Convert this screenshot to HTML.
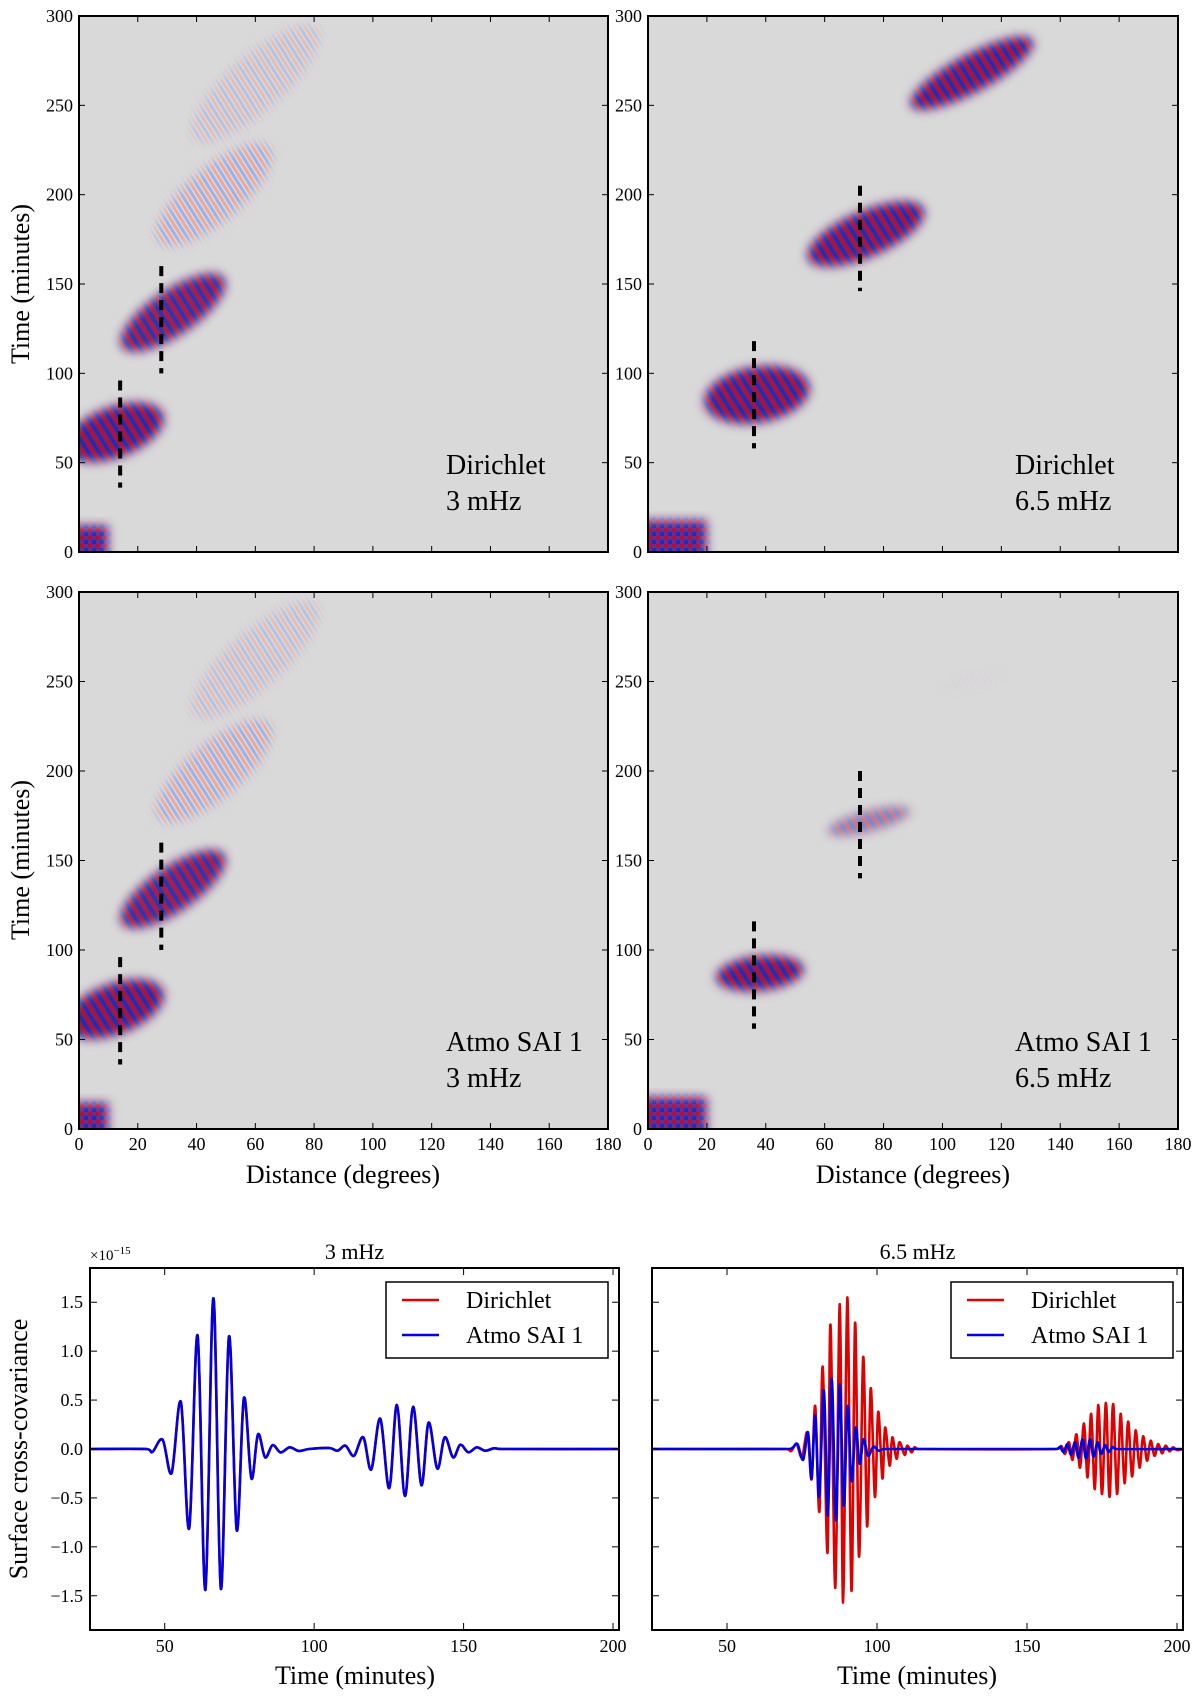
<!DOCTYPE html>
<html><head><meta charset="utf-8"><style>
html,body{margin:0;padding:0;background:#fff;}
svg text{font-family:"Liberation Serif",serif;fill:#000;}
</style></head><body>
<svg id="fig" width="1200" height="1696" viewBox="0 0 1200 1696" xmlns="http://www.w3.org/2000/svg">
<defs>
<pattern id="stripes" width="9" height="9" patternUnits="userSpaceOnUse" patternTransform="rotate(-32)">
<rect width="9" height="9" fill="#5a2a8a"/><rect width="3.5" height="9" fill="#b0103a"/><rect x="4.5" width="3.5" height="9" fill="#2a2aa8"/>
</pattern>
<pattern id="stripesFaint" width="9" height="9" patternUnits="userSpaceOnUse" patternTransform="rotate(-32)">
<rect width="9" height="9" fill="#d9d9d9"/><rect width="3" height="9" fill="#f29a8a"/><rect x="4.5" width="3" height="9" fill="#8aa6f2"/>
</pattern>
<pattern id="checker" width="8" height="8" patternUnits="userSpaceOnUse">
<rect width="8" height="8" fill="#6a2a90"/><rect width="4" height="4" fill="#b0103a"/><rect x="4" y="4" width="4" height="4" fill="#2a2aa8"/>
</pattern>
<filter id="soft" x="-50%" y="-50%" width="200%" height="200%"><feGaussianBlur stdDeviation="5"/></filter>
</defs>
</svg>
<script>
// ---------- heatmap data ----------
const hmXTicks=[0,20,40,60,80,100,120,140,160,180];
const hmYTicks=[0,50,100,150,200,250,300];
// blob data per panel: center distance, center time, half-extent in distance, half-extent in time, slope (min/deg), strength
const tlDist=[12,32,46,60], tlTime=[67,134,200,262], tlHd=[17,18,20,22], tlHt=[15,15,19,20], tlSlope=[0.45,0.9,1.1,1.2], tlAlpha=[1,0.95,0.35,0.2];
const trDist=[37,74,110], trTime=[88,178,268], trHd=[18,20,21], trHt=[16,14,12], trSlope=[0.2,0.6,0.8], trAlpha=[1,1,1];
const blDist=[12,32,46,60], blTime=[67,134,200,262], blHd=[17,18,20,22], blHt=[15,15,19,20], blSlope=[0.45,0.9,1.1,1.2], blAlpha=[1,0.95,0.35,0.2];
const brDist=[38,75,110], brTime=[87,172,250], brHd=[15,14,12], brHt=[10,6,4], brSlope=[0.15,0.4,0.3], brAlpha=[1,0.5,0.03];
// corner source region: max distance, max time
const cornerDist=[10,20,10,20], cornerTime=[15,18,15,18];
// dashed markers: distance, time start, time end
const tlDash=[[14,36,96],[28,100,160]], trDash=[[36,58,118],[72,146,205]];
const blDash=[[14,36,96],[28,100,160]], brDash=[[36,56,116],[72,140,200]];

// ---------- waveform data ----------
const wfXTicks=[50,100,150,200];
const wfYTicks=[-1.5,-1.0,-0.5,0.0,0.5,1.0,1.5];
const wfYLabels=["\u22121.5","\u22121.0","\u22120.5","0.0","0.5","1.0","1.5"];
const w3Time=[25,43.9,45.9,49.3,52.3,55.4,58.2,61,63.6,66.3,68.8,71.5,74.1,76.5,79,81.2,83.6,86.1,88.8,91.8,94.9,98.3,105.1,107.8,110.5,113.3,116.4,119.1,122.1,125.1,127.7,130.4,133.1,135.9,138.3,141.2,143.7,146.5,148.9,151.6,154.4,157.2,160.2,162.9,202];
const w3Val=[0,0,-0.03,0.095,-0.245,0.48,-0.81,1.16,-1.44,1.54,-1.43,1.15,-0.83,0.52,-0.30,0.15,-0.085,0.04,-0.035,0.017,-0.02,0,0.01,-0.017,0.034,-0.07,0.12,-0.21,0.31,-0.40,0.45,-0.48,0.43,-0.37,0.27,-0.2,0.12,-0.085,0.044,-0.034,0.017,-0.017,0.007,0,0];
const w65RedTime=[25,69.6,71.4,73.2,75,76.8,78.2,79.4,80.8,81.9,83.5,84.5,86.1,87.6,88.7,90.1,91.5,92.7,94,95.4,96.7,97.9,99.3,100.4,101.8,102.7,104.2,105.1,106.5,107.5,109.2,110.1,111.5,112.5,114,160,161.5,162.7,164,165.2,166.5,167.7,169,170.2,171.4,172.6,173.8,175,176.3,177.5,178.7,180,181.2,182.5,183.7,185,186.2,187.5,188.7,190,191.2,192.5,193.7,195,196.2,197.5,198.7,200,202];
const w65RedVal=[0,0,-0.02,0.05,-0.085,0.17,-0.31,0.44,-0.64,0.84,-1.06,1.27,-1.42,1.48,-1.57,1.55,-1.45,1.29,-1.10,0.94,-0.79,0.62,-0.49,0.38,-0.30,0.22,-0.17,0.12,-0.10,0.07,-0.06,0.034,-0.034,0.017,0,0,0.03,-0.05,0.07,-0.11,0.15,-0.19,0.26,-0.29,0.36,-0.41,0.45,-0.46,0.47,-0.49,0.46,-0.46,0.36,-0.35,0.28,-0.28,0.19,-0.19,0.13,-0.12,0.085,-0.07,0.05,-0.044,0.034,-0.024,0.017,-0.01,0];
const w65BlueTime=[25,70.5,72,73.5,75.4,77,78.2,79.4,80.7,82.3,83.6,84.9,86.3,87.6,88.9,90.2,91.5,92.9,94.2,95.5,97,98.8,100.6,103,159.5,161,162.2,163.5,164.7,166,167.2,168.5,169.7,171,172.2,173.5,174.7,176,177.2,178.5,180,202];
const w65BlueVal=[0,0,0.017,0.05,-0.11,0.17,-0.3,0.34,-0.49,0.6,-0.68,0.72,-0.73,0.66,-0.58,0.44,-0.33,0.22,-0.15,0.1,-0.07,0.024,-0.017,0,0,0.02,-0.03,0.05,-0.06,0.07,-0.09,0.1,-0.1,0.1,-0.08,0.07,-0.05,0.04,-0.03,0.02,0,0];

const NS="http://www.w3.org/2000/svg";
const svg=document.getElementById('fig');
function mk(tag,attrs,parent){const e=document.createElementNS(NS,tag);for(const k in attrs)e.setAttribute(k,attrs[k]);(parent||svg).appendChild(e);return e;}
function txt(s,attrs,parent){const e=mk('text',attrs,parent);e.textContent=s;return e;}

let clipId=0;
function heatPanel(name,x0,y0,w,h,dist,time,hd,ht,slope,alpha,cd,ct,dashes,line1,line2,showX){
  const g=mk('g',{});
  
  
  const px=d=>x0+d/180*w, py=t=>y0+h-t/300*h;
  const cid='clip'+(clipId++);
  const cp=mk('clipPath',{id:cid},g);mk('rect',{x:x0,y:y0,width:w,height:h},cp);
  const bg=mk('rect',{x:x0,y:y0,width:w,height:h,fill:'#d9d9d9'},g);
  
  
  const inner=mk('g',{'clip-path':'url(#'+cid+')'},g);
  const mid='m'+(clipId++);
  const m=mk('mask',{id:mid,maskUnits:'userSpaceOnUse',x:0,y:0,width:1200,height:1696},g);
  mk('rect',{x:px(-5),y:py(ct),width:px(cd)-px(-5),height:py(-5)-py(ct),fill:'#fff',filter:'url(#soft)'},m);
  const corner=mk('rect',{x:x0,y:py(ct+5),width:px(cd+5)-x0,height:py(0)-py(ct+5),fill:'url(#checker)',mask:'url(#'+mid+')'},inner);
  
  
  for(let i=0;i<dist.length;i++){
    const pts=[];
    for(let k=0;k<48;k++){const a=k/48*2*Math.PI;const u=Math.cos(a),v=Math.sin(a);
      const d=dist[i]+u*hd[i], t=time[i]+u*hd[i]*slope[i]+v*ht[i];pts.push(px(d).toFixed(1)+','+py(t).toFixed(1));}
    const id='b'+(clipId++);
    const mm=mk('mask',{id:id,maskUnits:'userSpaceOnUse',x:0,y:0,width:1200,height:1696},g);
    mk('polygon',{points:pts.join(' '),fill:'#fff',filter:'url(#soft)'},mm);
    const faint=alpha[i]<0.5;
    const b=mk('rect',{x:x0,y:y0,width:w,height:h,fill:faint?'url(#stripesFaint)':'url(#stripes)',opacity:faint?Math.min(1,alpha[i]*2.2):alpha[i],mask:'url(#'+id+')'},inner);
    
    
  }
  for(const dsh of dashes){
    const l=mk('line',{x1:px(dsh[0]),x2:px(dsh[0]),y1:py(dsh[2]),y2:py(dsh[1]),stroke:'#000','stroke-width':4,'stroke-dasharray':'10,7'},g);
    
    
  }
  for(const t of hmXTicks){const x=px(t);
    mk('line',{x1:x,x2:x,y1:y0+h,y2:y0+h-6,stroke:'#000','stroke-width':1},g);
    mk('line',{x1:x,x2:x,y1:y0,y2:y0+6,stroke:'#000','stroke-width':1},g);
    if(showX){const tl=txt(String(t),{x:x,y:y0+h+21,'font-size':18,'text-anchor':'middle'},g);
      
      }
  }
  for(const t of hmYTicks){const y=py(t);
    mk('line',{x1:x0,x2:x0+6,y1:y,y2:y,stroke:'#000','stroke-width':1},g);
    mk('line',{x1:x0+w,x2:x0+w-6,y1:y,y2:y,stroke:'#000','stroke-width':1},g);
    const tl=txt(String(t),{x:x0-6,y:y+6,'font-size':18,'text-anchor':'end'},g);
    
    
  }
  const fr=mk('rect',{x:x0,y:y0,width:w,height:h,fill:'none',stroke:'#000','stroke-width':2},g);
  
  
  const a1=txt(line1,{x:x0+367,y:y0+h-78,'font-size':28},g);
  
  
  const a2=txt(line2,{x:x0+367,y:y0+h-42,'font-size':28},g);
  
  
}
heatPanel('heatmap-dirichlet-3mhz',79,16,529,536,tlDist,tlTime,tlHd,tlHt,tlSlope,tlAlpha,cornerDist[0],cornerTime[0],tlDash,'Dirichlet','3 mHz',false);
heatPanel('heatmap-dirichlet-6p5mhz',648,16,530,536,trDist,trTime,trHd,trHt,trSlope,trAlpha,cornerDist[1],cornerTime[1],trDash,'Dirichlet','6.5 mHz',false);
heatPanel('heatmap-atmo-3mhz',79,592,529,537,blDist,blTime,blHd,blHt,blSlope,blAlpha,cornerDist[2],cornerTime[2],blDash,'Atmo SAI 1','3 mHz',true);
heatPanel('heatmap-atmo-6p5mhz',648,592,530,537,brDist,brTime,brHd,brHt,brSlope,brAlpha,cornerDist[3],cornerTime[3],brDash,'Atmo SAI 1','6.5 mHz',true);

function label(s,attrs,name){const e=txt(s,attrs);return e;}
label('Time (minutes)',{x:0,y:0,'font-size':26,'text-anchor':'middle',transform:'translate(29,284) rotate(-90)'},'y-axis-title-top');
label('Time (minutes)',{x:0,y:0,'font-size':26,'text-anchor':'middle',transform:'translate(29,860) rotate(-90)'},'y-axis-title-middle');
label('Distance (degrees)',{x:343,y:1183,'font-size':26,'text-anchor':'middle'},'x-axis-title-left');
label('Distance (degrees)',{x:913,y:1183,'font-size':26,'text-anchor':'middle'},'x-axis-title-right');

function pathFrom(xs,ys){let d='M'+xs[0].toFixed(1)+','+ys[0].toFixed(1);
  for(let i=0;i<xs.length-1;i++){const i0=Math.max(0,i-1),i3=Math.min(xs.length-1,i+2);
    let c1x=xs[i]+(xs[i+1]-xs[i0])/6,c1y=ys[i]+(ys[i+1]-ys[i0])/6,c2x=xs[i+1]-(xs[i3]-xs[i])/6,c2y=ys[i+1]-(ys[i3]-ys[i])/6;
    c1x=Math.max(xs[i],Math.min(xs[i+1],c1x));c2x=Math.max(xs[i],Math.min(xs[i+1],c2x));
    d+=' C'+c1x.toFixed(1)+','+c1y.toFixed(1)+' '+c2x.toFixed(1)+','+c2y.toFixed(1)+' '+xs[i+1].toFixed(1)+','+ys[i+1].toFixed(1);}
  return d;}
function wavePanel(name,x0,y0,w,h,title,series,showY,legX){
  const g=mk('g',{});
  
  
  const xmin=25,xmax=202,ymin=-1.85,ymax=1.85;
  const px=t=>x0+(t-xmin)/(xmax-xmin)*w, py=v=>y0+(ymax-v)/(ymax-ymin)*h;
  const cid='wc'+(clipId++);const cp=mk('clipPath',{id:cid},g);mk('rect',{x:x0,y:y0,width:w,height:h},cp);
  for(const s of series){
    const p=mk('path',{d:pathFrom(s.t.map(px),s.v.map(py)),fill:'none',stroke:s.color,'stroke-width':2.6,'stroke-linejoin':'round','clip-path':'url(#'+cid+')'},g);
    
    
  }
  for(const t of wfXTicks){const x=px(t);
    mk('line',{x1:x,x2:x,y1:y0+h,y2:y0+h-7,stroke:'#000'},g);mk('line',{x1:x,x2:x,y1:y0,y2:y0+7,stroke:'#000'},g);
    const tl=txt(String(t),{x:x,y:y0+h+22,'font-size':18,'text-anchor':'middle'},g);
    
    }
  wfYTicks.forEach((v,i)=>{const y=py(v);
    mk('line',{x1:x0,x2:x0+7,y1:y,y2:y,stroke:'#000'},g);mk('line',{x1:x0+w,x2:x0+w-7,y1:y,y2:y,stroke:'#000'},g);
    if(showY){const tl=txt(wfYLabels[i],{x:x0-7,y:y+6,'font-size':18,'text-anchor':'end'},g);
      
      }});
  const fr=mk('rect',{x:x0,y:y0,width:w,height:h,fill:'none',stroke:'#000','stroke-width':2},g);
  
  
  const tt=txt(title,{x:x0+w/2,y:y0-9,'font-size':22,'text-anchor':'middle'},g);
  
  
  const lg=mk('g',{},g);
  
  
  mk('rect',{x:legX,y:y0+14,width:222,height:76,fill:'#fff',stroke:'#000','stroke-width':1.5},lg);
  const e1=mk('line',{x1:legX+16,x2:legX+53,y1:y0+32,y2:y0+32,stroke:'#e00000','stroke-width':2.6},lg);
  
  
  txt('Dirichlet',{x:legX+80,y:y0+40,'font-size':24},lg);
  const e2=mk('line',{x1:legX+16,x2:legX+53,y1:y0+67,y2:y0+67,stroke:'#0000e0','stroke-width':2.6},lg);
  
  
  txt('Atmo SAI 1',{x:legX+80,y:y0+75,'font-size':24},lg);
}
wavePanel('waveform-3mhz',90,1268,529,362,'3 mHz',[
  {t:w3Time,v:w3Val,color:'#e00000',name:'dirichlet-line'},
  {t:w3Time,v:w3Val,color:'#0000e0',name:'atmo-line'}],true,386);
wavePanel('waveform-6p5mhz',652,1268,531,362,'6.5 mHz',[
  {t:w65RedTime,v:w65RedVal,color:'#e00000',name:'dirichlet-line'},
  {t:w65BlueTime,v:w65BlueVal,color:'#0000e0',name:'atmo-line'}],false,951);
const ex=label('\u00d710',{x:90,y:1260,'font-size':15},'y-scale-exponent');
const sup=mk('tspan',{dy:-6,'font-size':11},ex);sup.textContent='\u221215';
label('Surface cross-covariance',{x:0,y:0,'font-size':26,'text-anchor':'middle',transform:'translate(27,1449) rotate(-90)'},'y-axis-title-bottom');
label('Time (minutes)',{x:355,y:1684,'font-size':26,'text-anchor':'middle'},'x-axis-title-bottom-left');
label('Time (minutes)',{x:917,y:1684,'font-size':26,'text-anchor':'middle'},'x-axis-title-bottom-right');
</script>
</body></html>
